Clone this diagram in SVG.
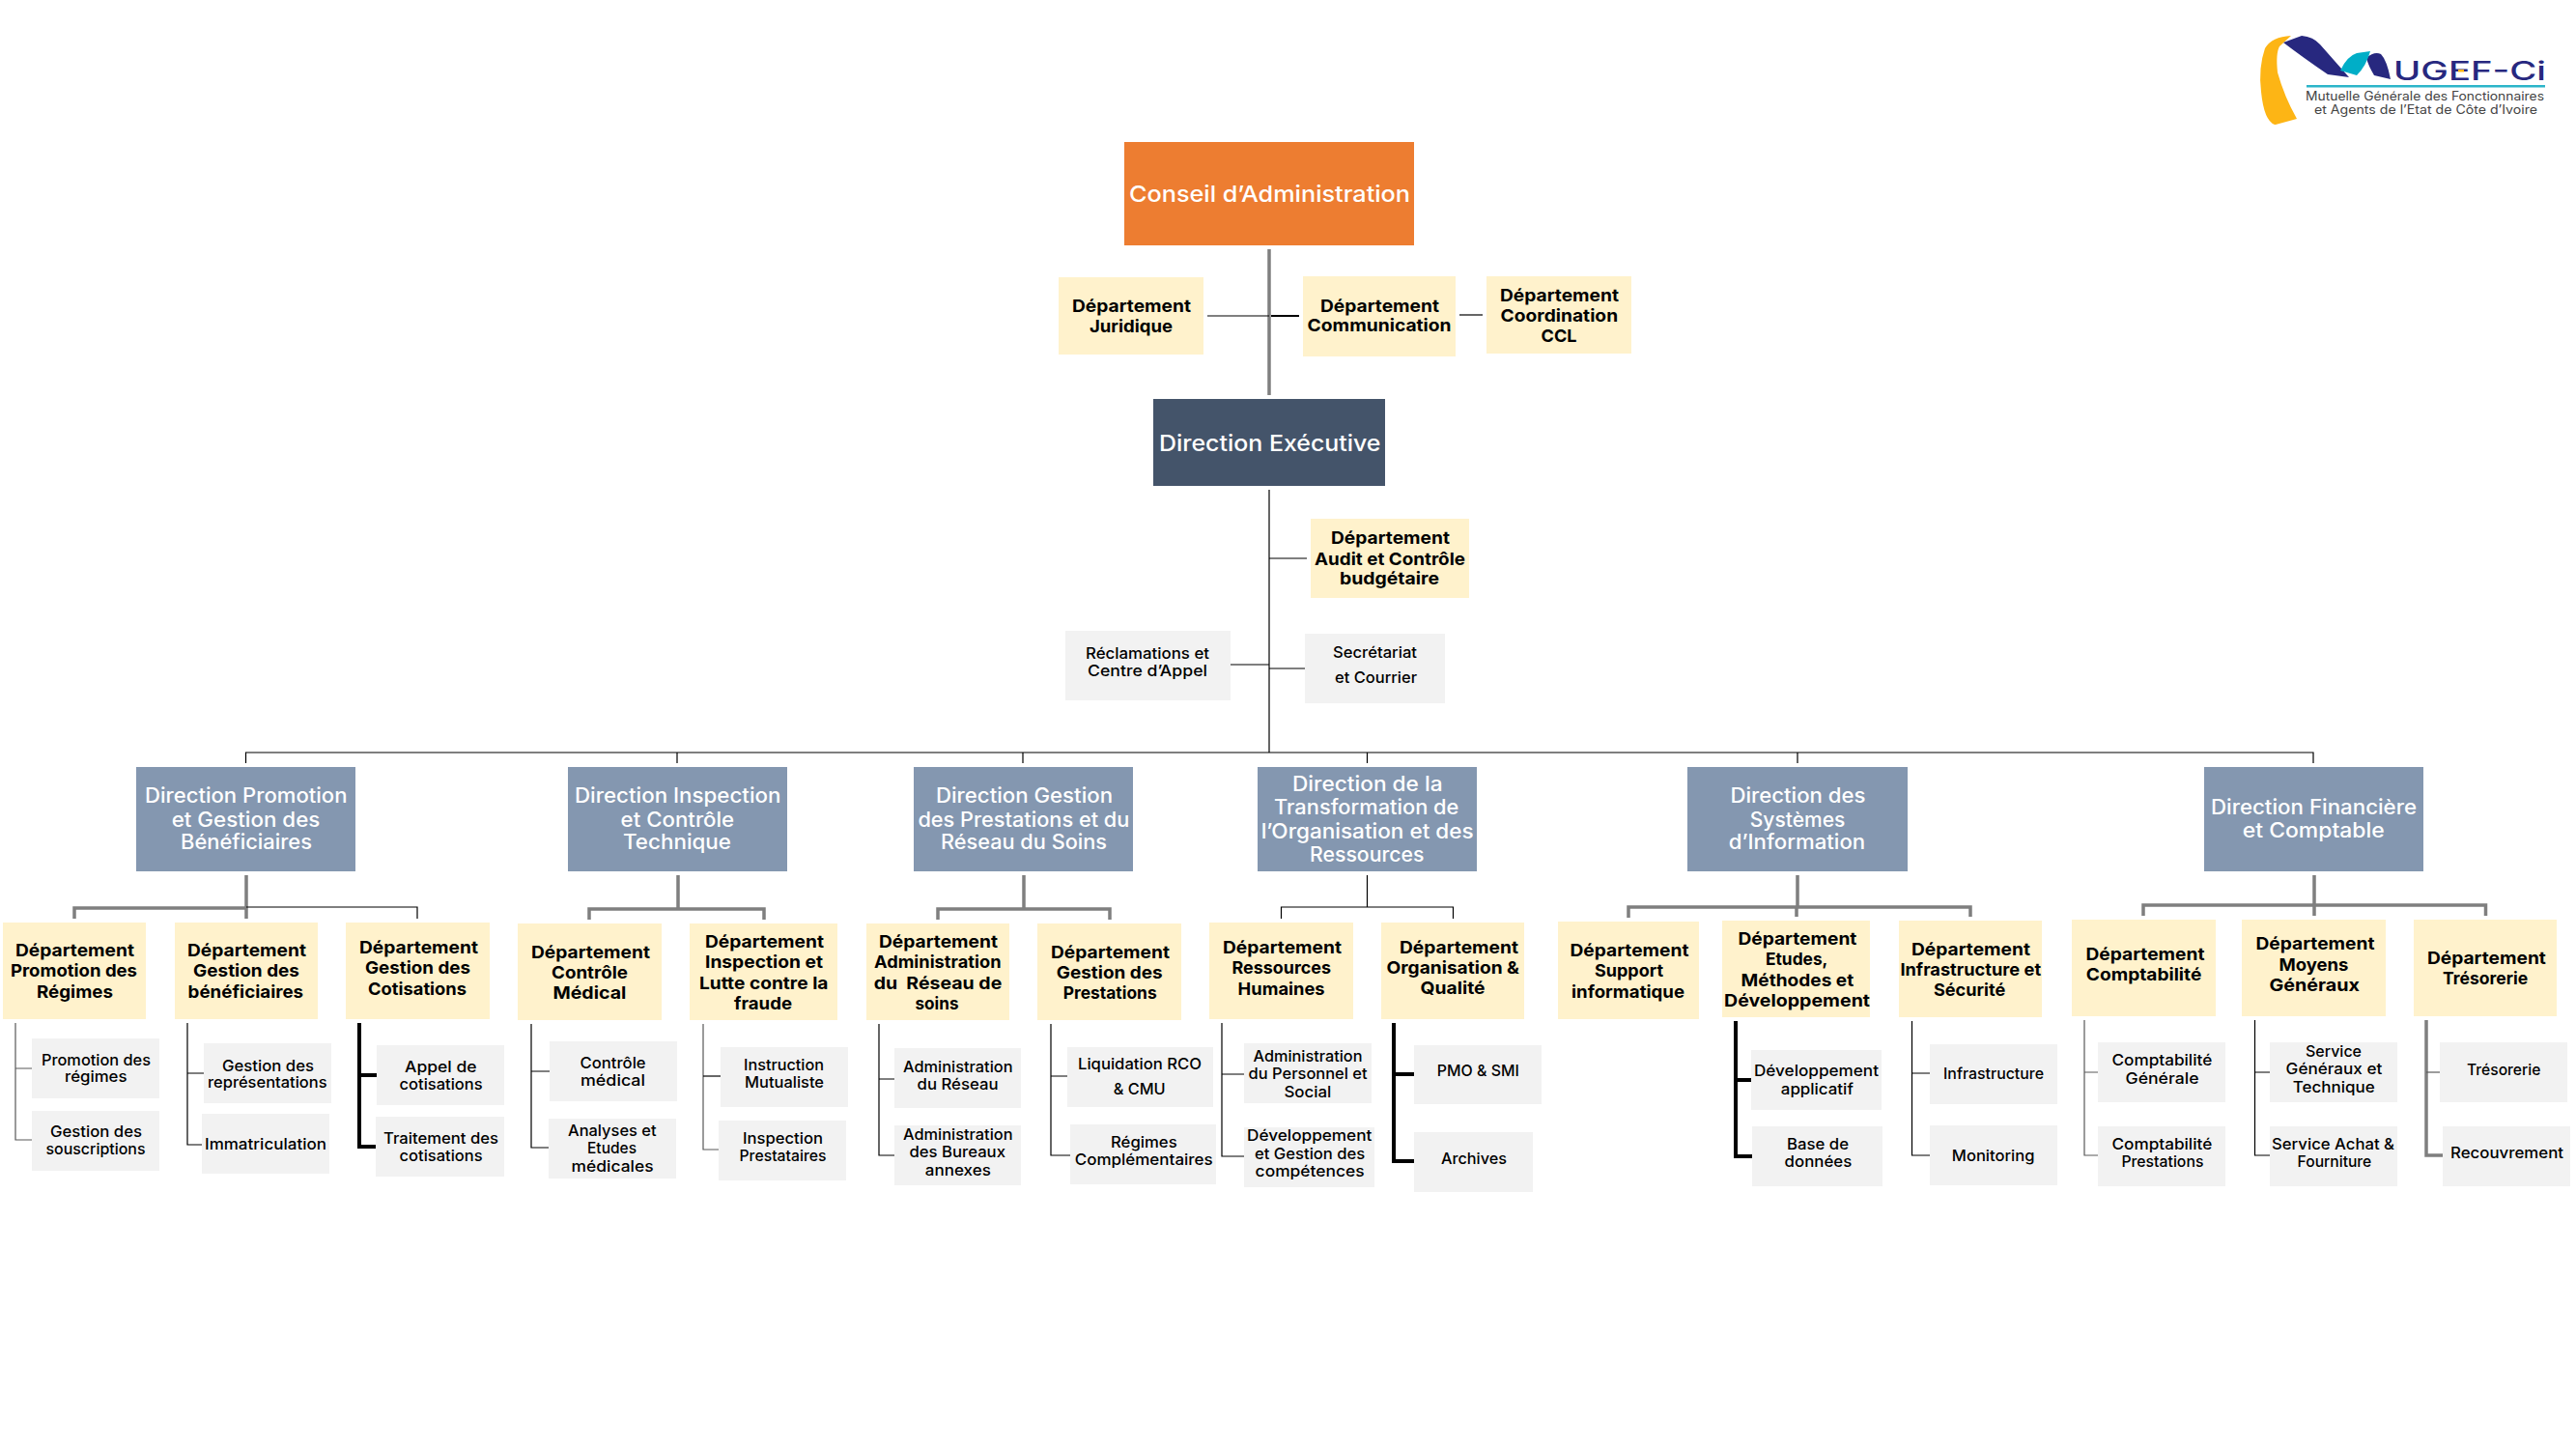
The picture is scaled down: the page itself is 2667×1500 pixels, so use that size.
<svg xmlns="http://www.w3.org/2000/svg" width="2667" height="1500" viewBox="0 0 2667 1500">
<style>
text{font-family:"Inter","Liberation Sans",sans-serif;}
.o{fill:#ED7D31}.e{fill:#44546A}.d{fill:#8497B0}.y{fill:#FFF2CC}.g{fill:#F2F2F2}
.t0{font-size:23.5px;fill:#fff;font-weight:500}
.t1{font-size:21px;fill:#fff;font-weight:500}
.t2{font-size:18px;fill:#000;font-weight:700}
.t3{font-size:16px;fill:#000;font-weight:500}
.c{fill:none;stroke-linejoin:miter}
.k{stroke:#000;stroke-width:1.2}
.K{stroke:#000;stroke-width:4}
.s{stroke:#7F7F7F;stroke-width:3.5}
.m{stroke:#595959;stroke-width:1.2}
</style>
<rect width="2667" height="1500" fill="#fff"/>
<g id="connectors" class="c">
<path class="s" d="M1314 258V409"/>
<path class="k" d="M1250 327H1314"/>
<path class="k" d="M1316 327H1345" style="stroke-width:2"/>
<path class="k" d="M1511 326H1535"/>
<path class="k" d="M1314 507V779M1314 578H1353M1274 688H1314M1314 692H1351"/>
<path class="k" d="M254.500 790V779H2395V790M701 779V790M1059 779V790M1415.500 779V790M1861 779V790"/>
<path class="s" d="M255 906V951M77 951V940H255"/>
<path class="k" d="M255 939H432V951"/>
<path class="m" d="M16 1059V1180H33M16 1106H33"/>
<path class="k" d="M194 1059V1185H209M194 1111H211"/>
<path class="K" d="M372 1059V1187H390M372 1113H390"/>
<path class="s" d="M702 906V941M610 952V941H791V952"/>
<path class="k" d="M550 1060V1188H568M550 1109H569"/>
<path class="m" d="M728 1060V1190H744"/>
<path class="k" d="M728 1114H746"/>
<path class="s" d="M1060 906V941M971 952V941H1149V952"/>
<path class="k" d="M910 1060V1196H926M910 1117H926"/>
<path class="k" d="M1088 1060V1196H1108M1088 1114H1105"/>
<path class="k" d="M1415.500 906V939M1326.500 951V939H1504.500V951"/>
<path class="k" d="M1265 1059V1197H1288M1265 1112H1288"/>
<path class="K" d="M1443 1059V1202H1464M1443 1112H1464"/>
<path class="s" d="M1861 906V939M1686 950V939H2040V949M1860 939V949"/>
<path class="K" d="M1797 1057V1197H1814M1797 1118H1813"/>
<path class="k" d="M1979.500 1057V1196H1998M1979.500 1111H1998"/>
<path class="s" d="M2396 906V948M2219 948V937H2573.500V948"/>
<path class="m" d="M2158 1056V1196H2172M2158 1110H2172"/>
<path class="k" d="M2334.500 1056V1196H2350M2334.500 1110H2350"/>
<path class="s" d="M2512 1056V1196H2529"/>
<path class="m" d="M2512 1110H2526"/>
</g>
<g id="logo">
<path d="M2372 37Q2352 38 2345 50Q2338 70 2341 95Q2344 125 2355 129L2356 129L2378 123Q2365 100 2358 75Q2356 55 2360 48Z" fill="#FDB515"/>
<path d="M2364 44L2383 37Q2395 38 2402 46L2432 80L2410 77Q2385 60 2364 44Z" fill="#27287F"/>
<path d="M2450 60Q2458 53 2465 56Q2471 62 2475 82L2458 78Q2452 68 2450 60Z" fill="#27287F"/>
<path d="M2423 73Q2430 58 2440 55L2454 53Q2450 68 2440 78Z" fill="#00AEC7"/>
<text x="2478" y="83" font-size="27" font-weight="500" fill="#27287F" textLength="158" lengthAdjust="spacingAndGlyphs">UGEF-Ci</text>
<rect x="2545" y="72" width="6" height="2.500" fill="#FDB515"/>
<rect x="2388" y="88" width="247" height="2.500" fill="#2CB5C9"/>
<text x="2387" y="104" font-size="12.500" fill="#444" textLength="247" lengthAdjust="spacingAndGlyphs">Mutuelle Générale des Fonctionnaires</text>
<text x="2396" y="118" font-size="12.500" fill="#444" textLength="231" lengthAdjust="spacingAndGlyphs">et Agents de l’Etat de Côte d’Ivoire</text>
</g>
<g id="conseil"><rect class="o" x="1164" y="147" width="300" height="107"/><text class="t0" x="1169" y="209" textLength="291" lengthAdjust="spacingAndGlyphs">Conseil d’Administration</text></g>
<g id="direction-executive"><rect class="e" x="1194" y="413" width="240" height="90"/><text class="t0" x="1200" y="467" textLength="229.500" lengthAdjust="spacingAndGlyphs">Direction Exécutive</text></g>
<g id="dept-juridique"><rect class="y" x="1096" y="287" width="150" height="80"/><text class="t2" x="1110" y="323" textLength="123" lengthAdjust="spacingAndGlyphs">Département</text><text class="t2" x="1128" y="344" textLength="86" lengthAdjust="spacingAndGlyphs">Juridique</text></g>
<g id="dept-communication"><rect class="y" x="1349" y="286" width="158" height="83"/><text class="t2" x="1367" y="323" textLength="123" lengthAdjust="spacingAndGlyphs">Département</text><text class="t2" x="1353.600" y="343" textLength="149" lengthAdjust="spacingAndGlyphs">Communication</text></g>
<g id="dept-ccl"><rect class="y" x="1539" y="286" width="150" height="80"/><text class="t2" x="1553" y="312" textLength="123" lengthAdjust="spacingAndGlyphs">Département</text><text class="t2" x="1553.600" y="333" textLength="121.500" lengthAdjust="spacingAndGlyphs">Coordination</text><text class="t2" x="1595.500" y="354" textLength="37" lengthAdjust="spacingAndGlyphs">CCL</text></g>
<g id="dept-audit"><rect class="y" x="1357" y="537" width="164" height="82"/><text class="t2" x="1378" y="563" textLength="123" lengthAdjust="spacingAndGlyphs">Département</text><text class="t2" x="1361" y="585" textLength="156" lengthAdjust="spacingAndGlyphs">Audit et Contrôle</text><text class="t2" x="1387" y="605" textLength="103" lengthAdjust="spacingAndGlyphs">budgétaire</text></g>
<g id="reclamations"><rect class="g" x="1103" y="653" width="171" height="72"/><text class="t3" x="1124" y="682" textLength="128" lengthAdjust="spacingAndGlyphs">Réclamations et</text><text class="t3" x="1126" y="700" textLength="124" lengthAdjust="spacingAndGlyphs">Centre d’Appel</text></g>
<g id="secretariat"><rect class="g" x="1351" y="656" width="145" height="72"/><text class="t3" x="1380" y="681" textLength="87" lengthAdjust="spacingAndGlyphs">Secrétariat</text><text class="t3" x="1382" y="707" textLength="85" lengthAdjust="spacingAndGlyphs">et Courrier</text></g>

<g id="dir-promotion"><rect class="d" x="141" y="794" width="227" height="108"/><text class="t1" x="150" y="831" textLength="209.500" lengthAdjust="spacingAndGlyphs">Direction Promotion</text><text class="t1" x="177.700" y="856" textLength="153.600" lengthAdjust="spacingAndGlyphs">et Gestion des</text><text class="t1" x="187" y="879" textLength="136" lengthAdjust="spacingAndGlyphs">Bénéficiaires</text></g>
<g id="dept-promotion"><rect class="y" x="3" y="955" width="148" height="100"/><text class="t2" x="16" y="990" textLength="123" lengthAdjust="spacingAndGlyphs">Département</text><text class="t2" x="11" y="1011" textLength="131" lengthAdjust="spacingAndGlyphs">Promotion des</text><text class="t2" x="38" y="1033" textLength="79" lengthAdjust="spacingAndGlyphs">Régimes</text></g>
<g id="dept-beneficiaires"><rect class="y" x="181" y="955" width="148" height="100"/><text class="t2" x="194" y="990" textLength="123" lengthAdjust="spacingAndGlyphs">Département</text><text class="t2" x="200" y="1011" textLength="110" lengthAdjust="spacingAndGlyphs">Gestion des</text><text class="t2" x="194.600" y="1033" textLength="119.500" lengthAdjust="spacingAndGlyphs">bénéficiaires</text></g>
<g id="dept-cotisations"><rect class="y" x="358" y="955" width="149" height="100"/><text class="t2" x="372" y="987" textLength="123" lengthAdjust="spacingAndGlyphs">Département</text><text class="t2" x="378" y="1008" textLength="109" lengthAdjust="spacingAndGlyphs">Gestion des</text><text class="t2" x="381" y="1030" textLength="102" lengthAdjust="spacingAndGlyphs">Cotisations</text></g>
<g id="svc-promotion"><rect class="g" x="33" y="1075" width="132" height="62"/><text class="t3" x="43" y="1103" textLength="113" lengthAdjust="spacingAndGlyphs">Promotion des</text><text class="t3" x="67" y="1120" textLength="64.500" lengthAdjust="spacingAndGlyphs">régimes</text></g>
<g id="svc-souscriptions"><rect class="g" x="33" y="1150" width="132" height="62"/><text class="t3" x="52" y="1177" textLength="95" lengthAdjust="spacingAndGlyphs">Gestion des</text><text class="t3" x="47.500" y="1195" textLength="103" lengthAdjust="spacingAndGlyphs">souscriptions</text></g>
<g id="svc-representations"><rect class="g" x="211" y="1080" width="132" height="62"/><text class="t3" x="230" y="1109" textLength="95" lengthAdjust="spacingAndGlyphs">Gestion des</text><text class="t3" x="215" y="1126" textLength="123.500" lengthAdjust="spacingAndGlyphs">représentations</text></g>
<g id="svc-immatriculation"><rect class="g" x="209" y="1153" width="132" height="62"/><text class="t3" x="212" y="1190" textLength="126" lengthAdjust="spacingAndGlyphs">Immatriculation</text></g>
<g id="svc-appel"><rect class="g" x="390" y="1082" width="132" height="62"/><text class="t3" x="419" y="1110" textLength="74.500" lengthAdjust="spacingAndGlyphs">Appel de</text><text class="t3" x="413.600" y="1128" textLength="86" lengthAdjust="spacingAndGlyphs">cotisations</text></g>
<g id="svc-traitement"><rect class="g" x="389" y="1156" width="133" height="62"/><text class="t3" x="397" y="1184" textLength="119" lengthAdjust="spacingAndGlyphs">Traitement des</text><text class="t3" x="413.600" y="1202" textLength="86" lengthAdjust="spacingAndGlyphs">cotisations</text></g>

<g id="dir-inspection"><rect class="d" x="588" y="794" width="227" height="108"/><text class="t1" x="595" y="831" textLength="213.500" lengthAdjust="spacingAndGlyphs">Direction Inspection</text><text class="t1" x="642.600" y="856" textLength="117.600" lengthAdjust="spacingAndGlyphs">et Contrôle</text><text class="t1" x="645" y="879" textLength="112" lengthAdjust="spacingAndGlyphs">Technique</text></g>
<g id="dept-controle"><rect class="y" x="536" y="956" width="149" height="100"/><text class="t2" x="550" y="992" textLength="123" lengthAdjust="spacingAndGlyphs">Département</text><text class="t2" x="571" y="1013" textLength="79" lengthAdjust="spacingAndGlyphs">Contrôle</text><text class="t2" x="572.400" y="1034" textLength="76" lengthAdjust="spacingAndGlyphs">Médical</text></g>
<g id="dept-inspection"><rect class="y" x="714" y="956" width="153" height="100"/><text class="t2" x="730" y="981" textLength="123" lengthAdjust="spacingAndGlyphs">Département</text><text class="t2" x="730" y="1002" textLength="122" lengthAdjust="spacingAndGlyphs">Inspection et</text><text class="t2" x="724" y="1024" textLength="133.500" lengthAdjust="spacingAndGlyphs">Lutte contre la</text><text class="t2" x="760" y="1045" textLength="60" lengthAdjust="spacingAndGlyphs">fraude</text></g>
<g id="svc-controle"><rect class="g" x="569" y="1078" width="132" height="62"/><text class="t3" x="600.600" y="1106" textLength="68" lengthAdjust="spacingAndGlyphs">Contrôle</text><text class="t3" x="601" y="1124" textLength="67" lengthAdjust="spacingAndGlyphs">médical</text></g>
<g id="svc-analyses"><rect class="g" x="568" y="1158" width="132" height="62"/><text class="t3" x="588" y="1176" textLength="91.500" lengthAdjust="spacingAndGlyphs">Analyses et</text><text class="t3" x="608" y="1194" textLength="51" lengthAdjust="spacingAndGlyphs">Etudes</text><text class="t3" x="591.600" y="1213" textLength="85" lengthAdjust="spacingAndGlyphs">médicales</text></g>
<g id="svc-instruction"><rect class="g" x="746" y="1084" width="132" height="62"/><text class="t3" x="770" y="1108" textLength="83" lengthAdjust="spacingAndGlyphs">Instruction</text><text class="t3" x="771" y="1126" textLength="82" lengthAdjust="spacingAndGlyphs">Mutualiste</text></g>
<g id="svc-prestataires"><rect class="g" x="744" y="1160" width="132" height="62"/><text class="t3" x="769" y="1184" textLength="83" lengthAdjust="spacingAndGlyphs">Inspection</text><text class="t3" x="765.500" y="1202" textLength="90" lengthAdjust="spacingAndGlyphs">Prestataires</text></g>

<g id="dir-prestations"><rect class="d" x="946" y="794" width="227" height="108"/><text class="t1" x="969" y="831" textLength="183" lengthAdjust="spacingAndGlyphs">Direction Gestion</text><text class="t1" x="950.400" y="856" textLength="219" lengthAdjust="spacingAndGlyphs">des Prestations et du</text><text class="t1" x="974" y="879" textLength="172" lengthAdjust="spacingAndGlyphs">Réseau du Soins</text></g>
<g id="dept-administration"><rect class="y" x="897" y="956" width="148" height="100"/><text class="t2" x="910" y="981" textLength="123" lengthAdjust="spacingAndGlyphs">Département</text><text class="t2" x="905" y="1002" textLength="131.500" lengthAdjust="spacingAndGlyphs">Administration</text><text class="t2" x="904.700" y="1024" textLength="132.600" lengthAdjust="spacingAndGlyphs" xml:space="preserve">du  Réseau de</text><text class="t2" x="947.500" y="1045" textLength="45" lengthAdjust="spacingAndGlyphs">soins</text></g>
<g id="dept-prestations"><rect class="y" x="1074" y="956" width="149" height="100"/><text class="t2" x="1088" y="992" textLength="123" lengthAdjust="spacingAndGlyphs">Département</text><text class="t2" x="1093.700" y="1013" textLength="110" lengthAdjust="spacingAndGlyphs">Gestion des</text><text class="t2" x="1100.700" y="1034" textLength="97" lengthAdjust="spacingAndGlyphs">Prestations</text></g>
<g id="svc-reseau"><rect class="g" x="926" y="1085" width="131" height="62"/><text class="t3" x="935" y="1110" textLength="113.500" lengthAdjust="spacingAndGlyphs">Administration</text><text class="t3" x="949.600" y="1128" textLength="84" lengthAdjust="spacingAndGlyphs">du Réseau</text></g>
<g id="svc-bureaux"><rect class="g" x="926" y="1165" width="131" height="62"/><text class="t3" x="935" y="1180" textLength="113.500" lengthAdjust="spacingAndGlyphs">Administration</text><text class="t3" x="941.400" y="1198" textLength="99.600" lengthAdjust="spacingAndGlyphs">des Bureaux</text><text class="t3" x="957.800" y="1217" textLength="68" lengthAdjust="spacingAndGlyphs">annexes</text></g>
<g id="svc-liquidation"><rect class="g" x="1105" y="1084" width="151" height="62"/><text class="t3" x="1116" y="1107" textLength="128" lengthAdjust="spacingAndGlyphs">Liquidation RCO</text><text class="t3" x="1152.700" y="1133" textLength="54" lengthAdjust="spacingAndGlyphs">&amp; CMU</text></g>
<g id="svc-regimes"><rect class="g" x="1108" y="1164" width="151" height="62"/><text class="t3" x="1150" y="1188" textLength="68.700" lengthAdjust="spacingAndGlyphs">Régimes</text><text class="t3" x="1112.700" y="1206" textLength="143" lengthAdjust="spacingAndGlyphs">Complémentaires</text></g>

<g id="dir-transformation"><rect class="d" x="1302" y="794" width="227" height="108"/><text class="t1" x="1338" y="819" textLength="155.500" lengthAdjust="spacingAndGlyphs">Direction de la</text><text class="t1" x="1319" y="843" textLength="191.400" lengthAdjust="spacingAndGlyphs">Transformation de</text><text class="t1" x="1305.700" y="868" textLength="220" lengthAdjust="spacingAndGlyphs">l’Organisation et des</text><text class="t1" x="1356" y="892" textLength="118.400" lengthAdjust="spacingAndGlyphs">Ressources</text></g>
<g id="dept-rh"><rect class="y" x="1252" y="955" width="149" height="100"/><text class="t2" x="1266" y="987" textLength="123" lengthAdjust="spacingAndGlyphs">Département</text><text class="t2" x="1275.500" y="1008" textLength="102.500" lengthAdjust="spacingAndGlyphs">Ressources</text><text class="t2" x="1281.600" y="1030" textLength="90" lengthAdjust="spacingAndGlyphs">Humaines</text></g>
<g id="dept-organisation"><rect class="y" x="1430" y="955" width="148" height="100"/><text class="t2" x="1449" y="987" textLength="123" lengthAdjust="spacingAndGlyphs">Département</text><text class="t2" x="1435.500" y="1008" textLength="137.500" lengthAdjust="spacingAndGlyphs">Organisation &amp;</text><text class="t2" x="1470.600" y="1029" textLength="67" lengthAdjust="spacingAndGlyphs">Qualité</text></g>
<g id="svc-personnel"><rect class="g" x="1288" y="1080" width="132" height="62"/><text class="t3" x="1297.500" y="1099" textLength="113" lengthAdjust="spacingAndGlyphs">Administration</text><text class="t3" x="1292.600" y="1117" textLength="123" lengthAdjust="spacingAndGlyphs">du Personnel et</text><text class="t3" x="1329.400" y="1136" textLength="49" lengthAdjust="spacingAndGlyphs">Social</text></g>
<g id="svc-competences"><rect class="g" x="1288" y="1167" width="135" height="62"/><text class="t3" x="1291" y="1181" textLength="129.400" lengthAdjust="spacingAndGlyphs">Développement</text><text class="t3" x="1299" y="1200" textLength="114.300" lengthAdjust="spacingAndGlyphs">et Gestion des</text><text class="t3" x="1299.600" y="1218" textLength="113" lengthAdjust="spacingAndGlyphs">compétences</text></g>
<g id="svc-pmo"><rect class="g" x="1464" y="1082" width="132" height="61"/><text class="t3" x="1487.800" y="1114" textLength="85" lengthAdjust="spacingAndGlyphs">PMO &amp; SMI</text></g>
<g id="svc-archives"><rect class="g" x="1464" y="1172" width="123" height="62"/><text class="t3" x="1492" y="1205" textLength="68" lengthAdjust="spacingAndGlyphs">Archives</text></g>

<g id="dir-si"><rect class="d" x="1747" y="794" width="228" height="108"/><text class="t1" x="1791.500" y="831" textLength="140" lengthAdjust="spacingAndGlyphs">Direction des</text><text class="t1" x="1811.800" y="856" textLength="98.500" lengthAdjust="spacingAndGlyphs">Systèmes</text><text class="t1" x="1789.700" y="879" textLength="141.500" lengthAdjust="spacingAndGlyphs">d’Information</text></g>
<g id="dept-support"><rect class="y" x="1613" y="954" width="146" height="101"/><text class="t2" x="1625.500" y="990" textLength="123" lengthAdjust="spacingAndGlyphs">Département</text><text class="t2" x="1651" y="1011" textLength="71" lengthAdjust="spacingAndGlyphs">Support</text><text class="t2" x="1627" y="1033" textLength="117" lengthAdjust="spacingAndGlyphs">informatique</text></g>
<g id="dept-etudes"><rect class="y" x="1783" y="953" width="153" height="100"/><text class="t2" x="1799.400" y="978" textLength="123" lengthAdjust="spacingAndGlyphs">Département</text><text class="t2" x="1828" y="999" textLength="64.400" lengthAdjust="spacingAndGlyphs">Etudes,</text><text class="t2" x="1802.500" y="1021" textLength="116.700" lengthAdjust="spacingAndGlyphs">Méthodes et</text><text class="t2" x="1785" y="1042" textLength="151" lengthAdjust="spacingAndGlyphs">Développement</text></g>
<g id="dept-infra"><rect class="y" x="1966" y="953" width="148" height="100"/><text class="t2" x="1979" y="989" textLength="123" lengthAdjust="spacingAndGlyphs">Département</text><text class="t2" x="1967.400" y="1010" textLength="145.700" lengthAdjust="spacingAndGlyphs">Infrastructure et</text><text class="t2" x="2001.900" y="1031" textLength="74.400" lengthAdjust="spacingAndGlyphs">Sécurité</text></g>
<g id="svc-dev"><rect class="g" x="1813" y="1087" width="135" height="62"/><text class="t3" x="1816" y="1114" textLength="129" lengthAdjust="spacingAndGlyphs">Développement</text><text class="t3" x="1843.800" y="1133" textLength="75" lengthAdjust="spacingAndGlyphs">applicatif</text></g>
<g id="svc-bdd"><rect class="g" x="1814" y="1166" width="135" height="62"/><text class="t3" x="1850" y="1190" textLength="64" lengthAdjust="spacingAndGlyphs">Base de</text><text class="t3" x="1847.600" y="1208" textLength="69.600" lengthAdjust="spacingAndGlyphs">données</text></g>
<g id="svc-infra"><rect class="g" x="1998" y="1081" width="132" height="62"/><text class="t3" x="2012" y="1117" textLength="104" lengthAdjust="spacingAndGlyphs">Infrastructure</text></g>
<g id="svc-monitoring"><rect class="g" x="1998" y="1165" width="132" height="62"/><text class="t3" x="2020.800" y="1202" textLength="85.700" lengthAdjust="spacingAndGlyphs">Monitoring</text></g>

<g id="dir-financiere"><rect class="d" x="2282" y="794" width="227" height="108"/><text class="t1" x="2289" y="843" textLength="213" lengthAdjust="spacingAndGlyphs">Direction Financière</text><text class="t1" x="2321.800" y="867" textLength="147" lengthAdjust="spacingAndGlyphs">et Comptable</text></g>
<g id="dept-comptabilite"><rect class="y" x="2145" y="952" width="149" height="100"/><text class="t2" x="2159.500" y="994" textLength="123" lengthAdjust="spacingAndGlyphs">Département</text><text class="t2" x="2159.800" y="1015" textLength="119.500" lengthAdjust="spacingAndGlyphs">Comptabilité</text></g>
<g id="dept-moyens"><rect class="y" x="2321" y="952" width="149" height="100"/><text class="t2" x="2335.500" y="983" textLength="123" lengthAdjust="spacingAndGlyphs">Département</text><text class="t2" x="2359.500" y="1005" textLength="72" lengthAdjust="spacingAndGlyphs">Moyens</text><text class="t2" x="2349.500" y="1026" textLength="93.500" lengthAdjust="spacingAndGlyphs">Généraux</text></g>
<g id="dept-tresorerie"><rect class="y" x="2499" y="952" width="148" height="100"/><text class="t2" x="2512.900" y="998" textLength="123" lengthAdjust="spacingAndGlyphs">Département</text><text class="t2" x="2529" y="1019" textLength="88.300" lengthAdjust="spacingAndGlyphs">Trésorerie</text></g>
<g id="svc-generale"><rect class="g" x="2172" y="1079" width="132" height="62"/><text class="t3" x="2186.500" y="1103" textLength="103.700" lengthAdjust="spacingAndGlyphs">Comptabilité</text><text class="t3" x="2200.500" y="1122" textLength="76" lengthAdjust="spacingAndGlyphs">Générale</text></g>
<g id="svc-cprestations"><rect class="g" x="2172" y="1166" width="132" height="62"/><text class="t3" x="2186.500" y="1190" textLength="103.700" lengthAdjust="spacingAndGlyphs">Comptabilité</text><text class="t3" x="2196.400" y="1208" textLength="85" lengthAdjust="spacingAndGlyphs">Prestations</text></g>
<g id="svc-generaux"><rect class="g" x="2350" y="1079" width="132" height="62"/><text class="t3" x="2387" y="1094" textLength="58" lengthAdjust="spacingAndGlyphs">Service</text><text class="t3" x="2366.600" y="1112" textLength="99.700" lengthAdjust="spacingAndGlyphs">Généraux et</text><text class="t3" x="2373.800" y="1131" textLength="85" lengthAdjust="spacingAndGlyphs">Technique</text></g>
<g id="svc-achat"><rect class="g" x="2350" y="1166" width="132" height="62"/><text class="t3" x="2352" y="1190" textLength="127" lengthAdjust="spacingAndGlyphs">Service Achat &amp;</text><text class="t3" x="2378.600" y="1208" textLength="76.700" lengthAdjust="spacingAndGlyphs">Fourniture</text></g>
<g id="svc-tresorerie"><rect class="g" x="2526" y="1079" width="132" height="62"/><text class="t3" x="2554" y="1113" textLength="76.400" lengthAdjust="spacingAndGlyphs">Trésorerie</text></g>
<g id="svc-recouvrement"><rect class="g" x="2529" y="1166" width="132" height="62"/><text class="t3" x="2537" y="1199" textLength="117" lengthAdjust="spacingAndGlyphs">Recouvrement</text></g>
</svg>
